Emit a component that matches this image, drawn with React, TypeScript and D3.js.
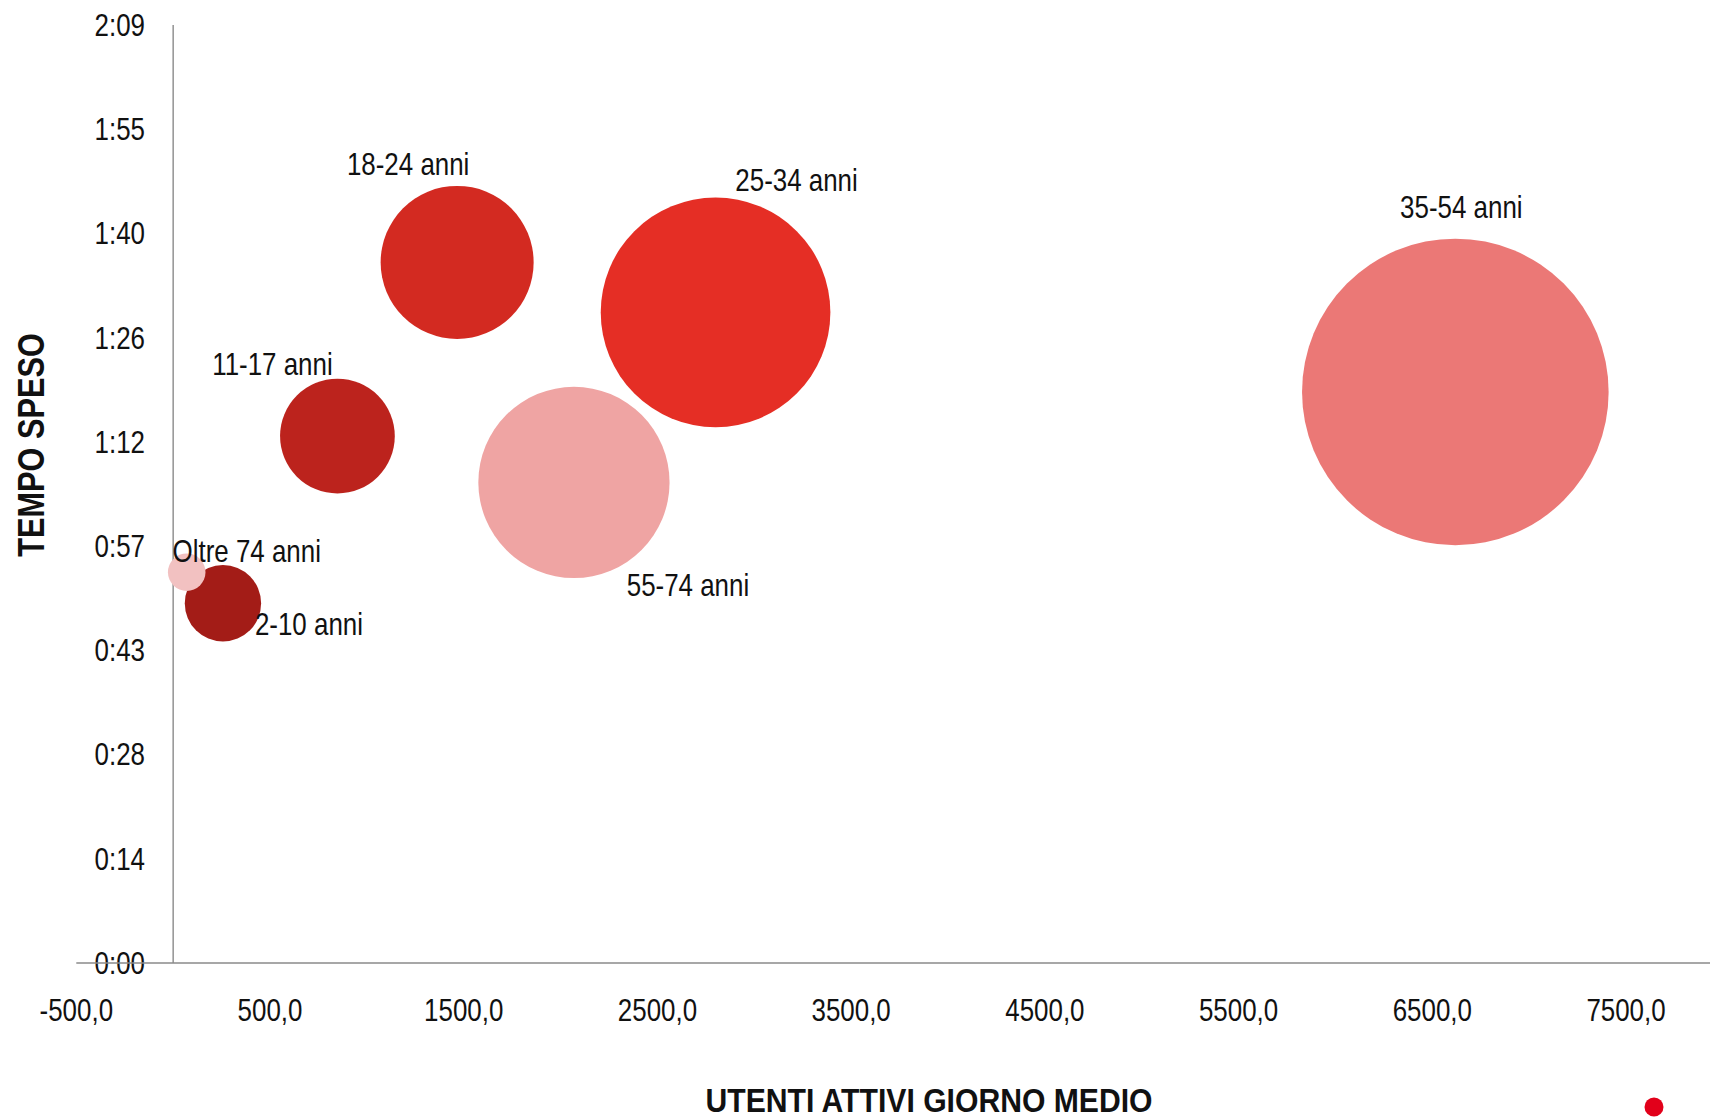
import React from 'react';
import * as d3 from 'd3';

// Age groups: daily active users (x), average time spent in minutes (y), bubble weight (area)
const ageGroups = ['2-10 anni', '11-17 anni', '18-24 anni', '25-34 anni', '35-54 anni', '55-74 anni', 'Oltre 74 anni'];
const dailyActiveUsers = [257, 848, 1466, 2800, 6619, 2069, 70];
const minutesSpent = [49.7, 72.8, 96.8, 89.9, 78.9, 66.4, 54.0];
const bubbleWeight = [6.2, 14.0, 24.9, 56.1, 100, 38.9, 1.5];
const bubbleColors = ['#A31C17', '#BC231D', '#D32A21', '#E52E25', '#EB7876', '#EFA4A3', '#F2C1C1'];

// Label placement relative to each bubble centre (px)
const labelOffsets: [number, number][] = [[86, 21], [-65, -72], [-49, -98], [81, -132], [6, -185], [114, 103], [60, -21]];

const xTicks = [-500, 500, 1500, 2500, 3500, 4500, 5500, 6500, 7500];
const yTicks = [0, 14.4, 28.8, 43.2, 57.6, 72, 86.4, 100.8, 115.2, 129.6];

const W = 1710;
const H = 1118;
const FONT = "'Liberation Sans', Arial, sans-serif";
const AXIS_COLOR = '#8a8a8a';
const NARROW = 0.81;

const fmtX = (v: number) => v.toFixed(1).replace('.', ',');
const fmtY = (m: number) => {
  const total = Math.floor(Math.round(m * 1000) / 1000);
  const h = Math.floor(total / 60);
  const mm = total % 60;
  return `${h}:${String(mm).padStart(2, '0')}`;
};

type TxtProps = {
  x: number;
  y: number;
  anchor?: 'start' | 'middle' | 'end';
  size?: number;
  sx?: number;
  weight?: string;
  rotate?: number;
  dy?: string;
  children: React.ReactNode;
};

// Condensed text: regular face squeezed horizontally
function Txt({ x, y, anchor = 'middle', size = 32, sx = NARROW, weight = 'normal', rotate = 0, dy = '0.34em', children }: TxtProps) {
  return (
    <text
      transform={`translate(${x},${y}) rotate(${rotate}) scale(${sx},1)`}
      dy={dy}
      textAnchor={anchor}
      fontSize={size}
      fontWeight={weight}
      fill="#111"
    >
      {children}
    </text>
  );
}

export default function App() {
  const x = d3.scaleLinear().domain([-500, 7500]).range([76.3, 1626]);
  const y = d3.scaleLinear().domain([0, 129.6]).range([963, 25]);
  const r = d3.scaleSqrt().domain([0, 100]).range([0, 153.3]);

  const points = ageGroups.map((g, i) => ({
    label: g,
    cx: x(dailyActiveUsers[i]),
    cy: y(minutesSpent[i]),
    r: r(bubbleWeight[i]),
    color: bubbleColors[i],
    off: labelOffsets[i],
  }));

  return (
    <svg
      width={W}
      height={H}
      style={{ position: 'absolute', left: 0, top: 0, display: 'block', background: '#fff' }}
      fontFamily={FONT}
    >
      {/* y tick labels */}
      {yTicks.map((t) => (
        <Txt key={'y' + t} x={145} y={y(t)} anchor="end">
          {fmtY(t)}
        </Txt>
      ))}
      {/* x tick labels */}
      {xTicks.map((t) => (
        <Txt key={'x' + t} x={x(t)} y={1010}>
          {fmtX(t)}
        </Txt>
      ))}

      {/* axes */}
      <line x1={x(0)} x2={x(0)} y1={y(129.6)} y2={y(0)} stroke={AXIS_COLOR} strokeWidth={1.4} />
      <line x1={x(-500)} x2={W} y1={y(0)} y2={y(0)} stroke={AXIS_COLOR} strokeWidth={1.6} />

      {/* bubbles */}
      {points.map((p) => (
        <circle key={p.label} cx={p.cx} cy={p.cy} r={p.r} fill={p.color} />
      ))}

      {/* bubble labels */}
      {points.map((p) => (
        <Txt key={'l' + p.label} x={p.cx + p.off[0]} y={p.cy + p.off[1]}>
          {p.label}
        </Txt>
      ))}

      {/* axis titles */}
      <Txt x={44} y={445} rotate={-90} size={37} sx={0.83} weight="bold" dy="0">
        TEMPO SPESO
      </Txt>
      <Txt x={929} y={1112} size={33.5} sx={0.9} weight="bold" dy="0">
        UTENTI ATTIVI GIORNO MEDIO
      </Txt>

      {/* brand dot */}
      <circle cx={W - 56} cy={H - 11} r={9.5} fill="#E2001A" />
    </svg>
  );
}
